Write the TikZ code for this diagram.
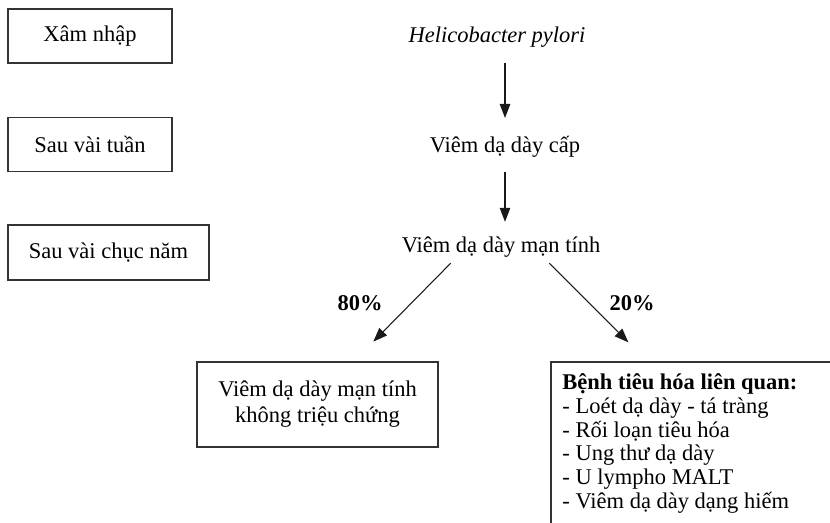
\documentclass[tikz,border=0pt]{standalone}
\usepackage{fontspec}
\setmainfont{Liberation Serif}
\usetikzlibrary{arrows.meta,calc}

\begin{document}
\begin{tikzpicture}[
  x=0.02cm,y=-0.02cm,
  arr/.style={-{Triangle[length=2.8mm,width=2.1mm]},line width=0.6pt,draw=black!90},
  frame/.style={draw=black!80,line width=0.7pt},
  phase/.style={frame,minimum width=3.28cm,minimum height=1.08cm,inner sep=0pt},
  stage/.style={inner sep=0pt,text height=9pt,text depth=3pt,anchor=base},
  share/.style={font=\bfseries,inner sep=0pt,anchor=base},
]
\useasboundingbox (0,0) rectangle (830,522);
\clip (0,0) rectangle (830,522);
\fontsize{12.8}{13.6}\selectfont
\node[phase] (entry) at (90,36) {Xâm nhập};
\node[phase] (weeks) at (90,144.5) {Sau vài tuần};
\node[phase,minimum width=4.02cm,minimum height=1.1cm] (decades) at (108.5,252.5) {Sau vài chục năm};
\node[stage] (hp) at (497,42) {\textit{Helicobacter pylori}};
\node[stage] (cap) at (505,152) {Viêm dạ dày cấp};
\node[stage] (man) at (501,252) {Viêm dạ dày mạn tính};
\node[share] (p80) at (360,310) {80\%};
\node[share] (p20) at (632,310) {20\%};
\node[frame,minimum width=4.82cm,minimum height=1.7cm,align=center,
  font=\fontsize{12.8}{14.8}\selectfont] (asym) at (317.5,404.5)
  {Viêm dạ dày mạn tính\\không triệu chứng};
\node[anchor=north west,align=left,inner sep=6.3pt] (assoc) at (551,362)
  {\textbf{Bệnh tiêu hóa liên quan:}\\- Loét dạ dày - tá tràng\\- Rối loạn tiêu hóa\\- Ung thư dạ dày\\- U lympho MALT\\- Viêm dạ dày dạng hiếm};
\draw[frame] (assoc.north west) rectangle ++(340,220);
\draw[arr,shorten <=8.9pt,shorten >=10.2pt] (hp.south -| cap) -- (cap.north);
\draw[arr,shorten <=8.3pt,shorten >=8pt] (cap.south) -- (cap.south |- man.north);
\draw[arr,shorten <=4.5pt,shorten >=15.8pt] ($(man.south)!.45!(man.south west)$) -- ($(asym.north)!.3!(asym.north east)$);
\draw[arr,shorten <=4.5pt,shorten >=15.8pt] ($(man.south)!.43!(man.south east)$) -- ($(assoc.north west)+(97,0)$);
\end{tikzpicture}
\end{document}
